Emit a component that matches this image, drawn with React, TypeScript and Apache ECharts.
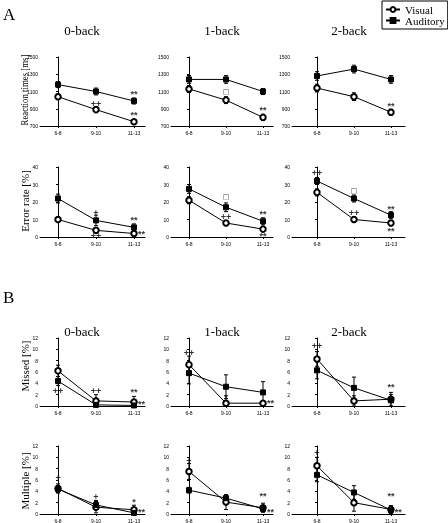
import React, { useEffect, useRef } from "react";
import * as echarts from "echarts";

const categories = ["6-8", "9-10", "11-13"];
const taskTitles = ["0-back", "1-back", "2-back"];
const rowNames = ["Reaction times [ms]", "Error rate [%]", "Missed [%]", "Multiple [%]"];

const rtTicks = [700, 900, 1100, 1300, 1500];
const errTicks = [0, 10, 20, 30, 40];
const countTicks = [0, 2, 4, 6, 8, 10, 12];

// Row A1: reaction times (0-back, 1-back, 2-back)
const rtVisual = [[1040, 890, 750], [1130, 1000, 800], [1140, 1040, 860]];
const rtVisualErr = [[30, 35, 25], [40, 40, 35], [45, 45, 35]];
const rtAuditory = [[1180, 1100, 990], [1240, 1240, 1100], [1280, 1360, 1240]];
const rtAuditoryErr = [[35, 40, 35], [45, 45, 35], [50, 45, 45]];

// Row A2: error rate
const erVisual = [[10, 3.8, 2], [21, 8, 4.5], [25.5, 10, 8]];
const erVisualErr = [[1, 1.5, 1], [2, 1.5, 1.5], [2, 1.5, 1.5]];
const erAuditory = [[22, 9.5, 5.5], [27.5, 17, 9], [32, 22, 12.5]];
const erAuditoryErr = [[2.5, 3, 2], [2.5, 2.5, 2], [2, 2, 2]];

// Row B1: missed
const missVisual = [[6.2, 0.9, 0.7], [7.3, 0.5, 0.5], [8.3, 0.9, 1.2]];
const missVisualErr = [[1, 1.1, 1], [1.5, 1.3, 0.2], [1.3, 0.9, 1.2]];
const missAuditory = [[4.4, 0.2, 0.1], [5.8, 3.4, 2.4], [6.3, 3.2, 1.0]];
const missAuditoryErr = [[0.8, 0.2, 0.1], [1.9, 2.1, 1.9], [1.5, 1.9, 1]];

// Row B2: multiple
const multVisual = [[4.5, 1.2, 0.75], [7.5, 2.1, 1.1], [8.5, 2.0, 0.8]];
const multVisualErr = [[0.8, 1, 0.8], [1.4, 1.3, 0.8], [1.5, 1.5, 0.7]];
const multAuditory = [[4.4, 1.6, 0.2], [4.2, 2.8, 0.9], [6.9, 3.8, 0.7]];
const multAuditoryErr = [[0.6, 0.8, 0.2], [0.5, 0.6, 0.4], [1.2, 1.2, 0.5]];

// Significance markers: [panel, category position, value, text]
const annotations: [number, number, number, string][] = [
  [0, 1, 960, "++"], [0, 2, 1075, "**"], [0, 2, 825, "**"],
  [1, 1, 1090, "□"], [1, 2, 880, "**"],
  [2, 2, 930, "**"],
  [3, 1, 14, "+"], [3, 2, 10, "**"], [3, 1, 0.6, "++"], [3, 2.2, 1.7, "**"],
  [4, 1, 23, "□"], [4, 1, 11.5, "++"], [4, 2, 13, "**"], [4, 2, 0.3, "**"],
  [5, 0, 36.5, "++"], [5, 1, 26.5, "□"], [5, 1, 14, "++"], [5, 2, 16, "**"], [5, 2, 3.5, "**"],
  [6, 0, 2.6, "++"], [6, 1, 2.6, "++"], [6, 2, 2.4, "**"], [6, 2.2, 0.3, "**"],
  [7, 0, 9.3, "++"], [7, 2.2, 0.5, "**"],
  [8, 0, 10.6, "++"], [8, 2, 3.4, "**"],
  [9, 0, 6.3, "+"], [9, 1, 3, "+"], [9, 2, 2.2, "*"], [9, 2.2, 0.3, "**"],
  [10, 0, 9.4, "+"], [10, 2, 3.1, "**"], [10, 2.2, 0.3, "**"],
  [11, 0, 10.8, "+"], [11, 2, 3.1, "**"], [11, 2.2, 0.3, "**"],
];

const rowsData = [
  { v: rtVisual, ve: rtVisualErr, a: rtAuditory, ae: rtAuditoryErr, min: 700, max: 1500, ticks: rtTicks },
  { v: erVisual, ve: erVisualErr, a: erAuditory, ae: erAuditoryErr, min: 0, max: 40, ticks: errTicks },
  { v: missVisual, ve: missVisualErr, a: missAuditory, ae: missAuditoryErr, min: 0, max: 12, ticks: countTicks },
  { v: multVisual, ve: multVisualErr, a: multAuditory, ae: multAuditoryErr, min: 0, max: 12, ticks: countTicks },
];

// layout
const COLS = [
  { left: 40, width: 105, xmin: -0.474, xmax: 2.29 },
  { left: 171, width: 102, xmin: -0.486, xmax: 2.27 },
  { left: 292, width: 113, xmin: -0.676, xmax: 2.38 },
];
const ROWS = [
  { top: 57, height: 69 },
  { top: 167, height: 70 },
  { top: 338, height: 68 },
  { top: 446, height: 69 },
];
const TITLE_X = [82, 222, 349];
const TITLE_Y = [30, 331];
const NAME_POS = [[24, 90], [25, 201], [25, 366], [25, 481]];
const NAME_SCALE = [0.8, 1, 1, 1];

const SERIF = '"Liberation Serif", "Times New Roman", serif';
const SANS = '"Liberation Sans", Arial, sans-serif';

function buildOption() {
  const grid: any[] = [];
  const xAxis: any[] = [];
  const yAxis: any[] = [];
  const series: any[] = [];
  for (let r = 0; r < 4; r++) {
    const rd = rowsData[r];
    for (let c = 0; c < 3; c++) {
      const p = r * 3 + c;
      const col = COLS[c];
      const row = ROWS[r];
      grid.push({ left: col.left, top: row.top, width: col.width, height: row.height });
      xAxis.push({
        type: "value", gridIndex: p, min: col.xmin, max: col.xmax,
        axisLine: { show: true, lineStyle: { color: "#000", width: 1 } },
        axisTick: { show: true, length: 2, customValues: [0, 1, 2], lineStyle: { color: "#000" } },
        axisLabel: {
          customValues: [0, 1, 2], margin: 4, fontSize: 5, color: "#000", fontFamily: SANS,
          formatter: (v: number) => categories[Math.round(v)] ?? "",
        },
        splitLine: { show: false },
      });
      yAxis.push({
        type: "value", gridIndex: p, min: rd.min, max: rd.max,
        axisLine: { show: true, lineStyle: { color: "#000", width: 1 } },
        axisTick: { show: true, length: 2, customValues: rd.ticks, lineStyle: { color: "#000" } },
        axisLabel: {
          customValues: rd.ticks, margin: 2, fontSize: 5, color: "#000", fontFamily: SANS,
          formatter: (v: number) => String(v),
        },
        splitLine: { show: false },
      });
      const groups = [
        { name: "Visual", m: rd.v[c], e: rd.ve[c], symbol: "emptyCircle", size: 5.5 },
        { name: "Auditory", m: rd.a[c], e: rd.ae[c], symbol: "rect", size: 5 },
      ];
      for (const g of groups) {
        series.push({
          type: "custom", xAxisIndex: p, yAxisIndex: p, z: 1, silent: true,
          itemStyle: { color: "#000" },
          encode: { x: 0, y: [1, 2] },
          data: g.m.map((m, i) => [i, Math.max(m - g.e[i], rd.min), m + g.e[i]]),
          renderItem: (params: any, api: any) => {
            const x = api.value(0);
            const lo = api.coord([x, api.value(1)]);
            const hi = api.coord([x, api.value(2)]);
            const st = { stroke: "#000", lineWidth: 1 };
            return {
              type: "group",
              children: [
                { type: "line", shape: { x1: lo[0], y1: lo[1], x2: hi[0], y2: hi[1] }, style: st },
                { type: "line", shape: { x1: hi[0] - 2, y1: hi[1], x2: hi[0] + 2, y2: hi[1] }, style: st },
                { type: "line", shape: { x1: lo[0] - 2, y1: lo[1], x2: lo[0] + 2, y2: lo[1] }, style: st },
              ],
            };
          },
        });
        series.push({
          type: "line", name: g.name, xAxisIndex: p, yAxisIndex: p, z: 3,
          data: g.m.map((m, i) => [i, m]),
          symbol: g.symbol, symbolSize: g.size, showSymbol: true,
          lineStyle: { color: "#000", width: 1 },
          itemStyle: { color: "#000", borderColor: "#000", borderWidth: 1 },
          emphasis: { disabled: true },
        });
      }
      const anns = annotations.filter((a) => a[0] === p);
      if (anns.length) {
        series.push({
          type: "scatter", xAxisIndex: p, yAxisIndex: p, z: 4, silent: true,
          symbol: "circle", symbolSize: 1,
          itemStyle: { color: "rgba(0,0,0,0)" },
          emphasis: { disabled: true },
          data: anns.map((a) => ({
            value: [a[1], a[2]],
            name: a[3],
            label: a[3] === "□"
              ? { fontSize: 7, fontWeight: "normal", fontFamily: '"DejaVu Sans", sans-serif' }
              : undefined,
          })),
          label: {
            show: true, position: "inside", formatter: "{b}",
            color: "#000", fontSize: 9, fontWeight: "bold", fontFamily: SANS,
            textBorderWidth: 0,
          },
        });
      }
    }
  }

  const graphic: any[] = [
    { type: "text", left: 3, top: 6, style: { text: "A", fontSize: 17, fontFamily: SERIF, fill: "#000" } },
    { type: "text", left: 3, top: 289, style: { text: "B", fontSize: 17, fontFamily: SERIF, fill: "#000" } },
  ];
  for (const ty of TITLE_Y) {
    for (let c = 0; c < 3; c++) {
      graphic.push({
        type: "text", x: TITLE_X[c], y: ty,
        style: { text: taskTitles[c], fontSize: 13, fontFamily: SERIF, fill: "#000", align: "center", verticalAlign: "middle" },
      });
    }
  }
  for (let r = 0; r < 4; r++) {
    graphic.push({
      type: "text", x: NAME_POS[r][0], y: NAME_POS[r][1], rotation: Math.PI / 2, scaleX: NAME_SCALE[r],
      style: { text: rowNames[r], fontSize: 11, fontFamily: SERIF, fill: "#000", align: "center", verticalAlign: "middle" },
    });
  }

  return {
    animation: false,
    backgroundColor: "#fff",
    color: ["#000"],
    textStyle: { fontFamily: SANS },
    grid, xAxis, yAxis, series, graphic,
    legend: {
      data: ["Visual", "Auditory"],
      orient: "vertical", left: 382, top: 1,
      itemWidth: 14, itemHeight: 6, itemGap: 0,
      padding: [3, 3, 3, 3],
      borderColor: "#000", borderWidth: 1,
      selectedMode: false,
      textStyle: { fontSize: 11, fontFamily: SERIF, color: "#000", lineHeight: 10, padding: [0, 0, 0, 0] },
    },
  };
}

export default function App() {
  const ref = useRef<HTMLDivElement>(null);
  useEffect(() => {
    if (!ref.current) return;
    const chart = echarts.init(ref.current, undefined, { renderer: "svg" });
    chart.setOption(buildOption() as any);
    return () => chart.dispose();
  }, []);
  return (
    <div
      ref={ref}
      style={{
        position: "fixed", left: 0, top: 0, width: 448, height: 523,
        background: "#fff", filter: "grayscale(1)",
      }}
    />
  );
}
